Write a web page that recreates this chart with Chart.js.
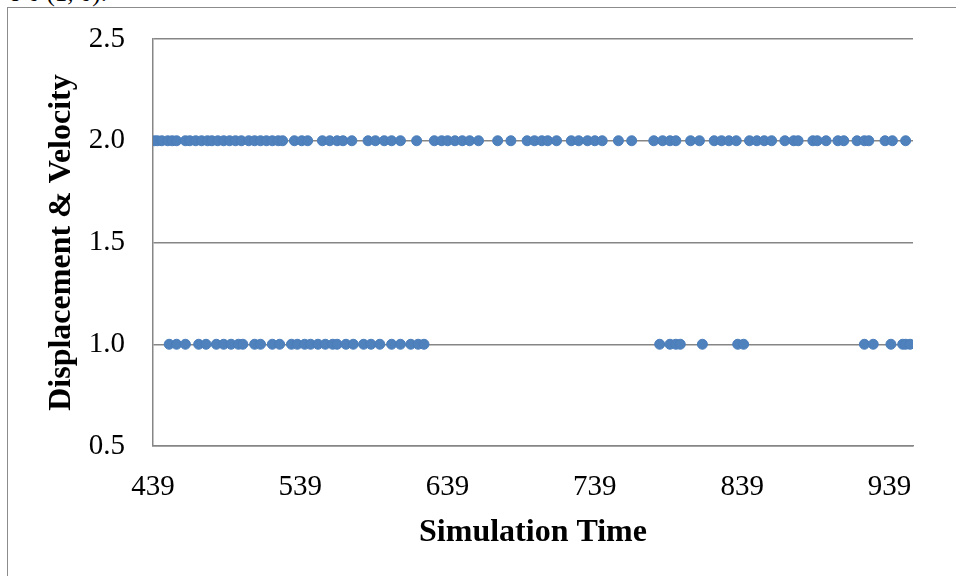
<!DOCTYPE html>
<html>
<head>
<meta charset="utf-8">
<script src="https://cdn.jsdelivr.net/npm/chart.js@4"></script>
<style>
  body { margin: 0; background: #fff; }
  #wrap { position: relative; width: 956px; height: 576px; overflow: hidden; }
  #frame { position: absolute; left: 7px; top: 7px; right: -2px; bottom: -2px; border-left: 1.5px solid #8c8c8c; border-top: 1.5px solid #8c8c8c; }
  #cut { position: absolute; left: 9px; top: -21px; font: 25px "Liberation Serif", serif; color: #000; }
  canvas { position: absolute; left: 0; top: 0; }
</style>
</head>
<body>
<div id="wrap">
  <div id="cut">o 0 (1, 0).</div>
  <div id="frame"></div>
  <canvas id="chart" width="956" height="576"></canvas>
</div>
<script>
// simulation times where the value sits at 2.0
const timesAt2 = [440, 442, 445, 449, 452, 455, 461, 464, 468, 472, 476, 479, 483, 487, 491, 495, 499,
  504, 508, 512, 516, 520, 524, 527, 535, 540, 544, 554, 559, 564, 568, 574, 585, 590, 596, 601, 607,
  618, 630, 635, 639, 644, 649, 654, 660, 673, 682, 693, 698, 703, 707, 713, 723, 728, 734, 739, 744,
  755, 764, 779, 785, 790, 794, 804, 810, 820, 825, 830, 835, 844, 849, 854, 859, 868, 874, 877, 887,
  890, 896, 904, 908, 917, 922, 925, 936, 941, 950];
// simulation times where the value sits at 1.0
const timesAt1 = [450, 455, 461, 470, 475, 482, 487, 492, 497, 500, 508, 512, 520, 525, 533, 537, 542,
  546, 551, 556, 561, 564, 570, 575, 582, 587, 593, 601, 607, 614, 619, 623, 783, 790, 794, 797, 812,
  836, 840, 922, 928, 940, 948, 950, 953];

const xTickValues = [439, 539, 639, 739, 839, 939];
const yTickValues = [0.5, 1.0, 1.5, 2.0, 2.5];

const points = [];
timesAt2.forEach(t => points.push({ x: t, y: 2.0 }));
timesAt1.forEach(t => points.push({ x: t, y: 1.0 }));

const axisColor = '#868686';
const serif = '"Liberation Serif", "Times New Roman", serif';

new Chart(document.getElementById('chart'), {
    type: 'scatter',
    data: {
        datasets: [{
            data: points,
            backgroundColor: '#4F81BD',
            borderColor: '#4A7EBB',
            borderWidth: 1,
            pointRadius: 5
        }]
    },
    options: {
        responsive: false,
        animation: false,
        layout: { padding: { left: 43, top: 39, right: 43, bottom: 24 } },
        plugins: { legend: { display: false }, tooltip: { enabled: false } },
        scales: {
            x: {
                min: 439,
                max: 955,
                afterBuildTicks: s => { s.ticks = xTickValues.map(v => ({ value: v })); },
                afterFit: s => { s.height = 106; s.paddingLeft = 0; s.paddingRight = 0; },
                grid: { display: false, drawTicks: false },
                border: { color: axisColor, width: 1.5 },
                ticks: { padding: 24, color: '#000', font: { family: serif, size: 29 }, maxRotation: 0 },
                title: { display: true, text: 'Simulation Time', color: '#000', padding: 0,
                    font: { family: serif, size: 32, weight: 'bold' } }
            },
            y: {
                min: 0.5,
                max: 2.5,
                afterBuildTicks: s => { s.ticks = yTickValues.map(v => ({ value: v })); },
                // tick padding would otherwise push the plot top down
                afterFit: s => { s.width = 110; s.paddingTop = 0; s.paddingBottom = 0; },
                grid: { color: axisColor, lineWidth: 1.5, drawTicks: false },
                border: { color: axisColor, width: 1.5 },
                ticks: { padding: 28, color: '#000', font: { family: serif, size: 29 },
                    callback: v => v.toFixed(1) },
                title: { display: true, text: 'Displacement & Velocity', color: '#000', padding: 0,
                    font: { family: serif, size: 32, weight: 'bold' } }
            }
        }
    }
});
</script>
</body>
</html>
